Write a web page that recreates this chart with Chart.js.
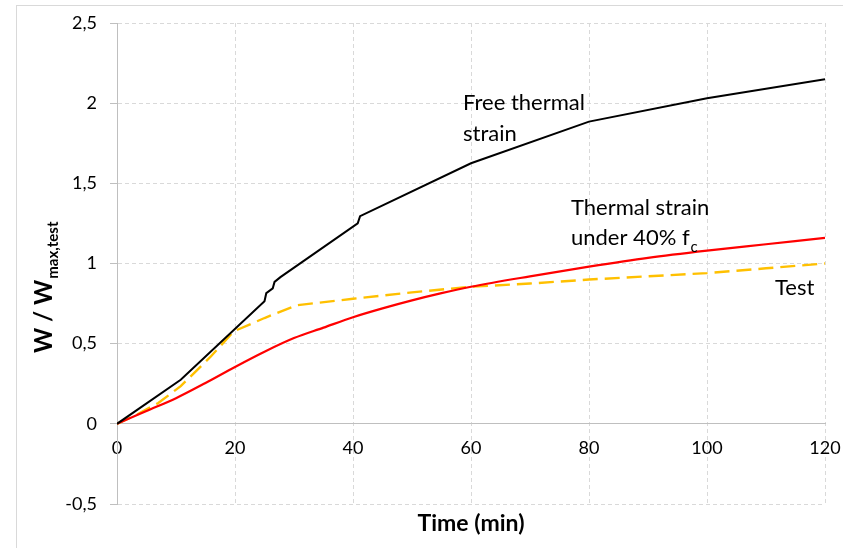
<!DOCTYPE html>
<html>
<head>
<meta charset="utf-8">
<script src="https://cdn.jsdelivr.net/npm/chart.js@4.4.1/dist/chart.umd.min.js"></script>
<style>
html,body{margin:0;padding:0;background:#ffffff;}
#wrap{width:843px;height:548px;position:relative;}
canvas{display:block;}
</style>
</head>
<body>
<div id="wrap"><canvas id="c" width="843" height="548"></canvas></div>
<script>
// ---- data ----
const timeFree = [0, 10.8, 25, 25.3, 26.4, 26.7, 27.7, 40.8, 41.2, 60, 80, 100, 120];
const wFree    = [0, 0.275, 0.765, 0.815, 0.845, 0.885, 0.915, 1.25, 1.295, 1.625, 1.885, 2.03, 2.15];

const timeLoad = [0, 5, 10, 15, 20, 25, 30, 35, 40, 45, 50, 55, 60, 70, 80, 90, 100, 110, 120];
const wLoad    = [0, 0.08, 0.16, 0.255, 0.355, 0.45, 0.535, 0.6, 0.665, 0.72, 0.77, 0.815, 0.855, 0.92, 0.98, 1.035, 1.08, 1.12, 1.16];

const timeTest = [0, 3.4, 7, 10.8, 15.9, 19.8, 25, 30.5, 40, 50, 60, 70, 80, 90, 100, 110, 120];
const wTest    = [0, 0.058, 0.13, 0.235, 0.42, 0.577, 0.66, 0.74, 0.78, 0.82, 0.855, 0.875, 0.9, 0.92, 0.94, 0.97, 1.0];

const seriesNames = ['Free thermal strain', 'Thermal strain under 40% fc', 'Test'];
const xTickValues = [0, 20, 40, 60, 80, 100, 120];
const yTickValues = [-0.5, 0, 0.5, 1, 1.5, 2, 2.5];
const xTitle = 'Time (min)';
const yTitleMain = 'W / W';
const yTitleSub = 'max,test';

function pts(xs, ys){ return xs.map((x,i)=>({x:x, y:ys[i]})); }

const FONT = 'Lato, "Open Sans", sans-serif';
const GRID = '#d9d9d9';
const AXIS = '#bfbfbf';

const decorations = {
  id: 'decorations',
  beforeDraw(chart){
    const ctx = chart.ctx;
    ctx.save();
    ctx.fillStyle = '#ffffff';
    ctx.fillRect(0,0,chart.width,chart.height);
    ctx.strokeStyle = '#d9d9d9';
    ctx.lineWidth = 1;
    ctx.strokeRect(16.5, 5.5, 900, 700);
    ctx.restore();
  },
  afterDraw(chart){
    const ctx = chart.ctx;
    const ca = chart.chartArea;
    ctx.save();
    ctx.fillStyle = '#000000';
    ctx.textBaseline = 'alphabetic';
    ctx.textAlign = 'left';
    // series labels
    ctx.font = '22px ' + FONT;
    ctx.fillText('Free thermal', 463, 110);
    ctx.fillText('strain', 463, 141);
    ctx.fillText('Thermal strain', 571, 215);
    const under = 'under 40% f';
    ctx.fillText(under, 571, 245);
    const uw = ctx.measureText(under).width;
    ctx.font = '15px ' + FONT;
    ctx.fillText('c', 571 + uw + 1, 252);
    ctx.font = '22px ' + FONT;
    ctx.fillText('Test', 775, 295);

    // x title
    ctx.font = 'bold 23px ' + FONT;
    ctx.textAlign = 'center';
    ctx.fillText(xTitle, 471, 531);

    // y title (rotated)
    ctx.textAlign = 'left';
    ctx.translate(52, 353);
    ctx.rotate(-Math.PI/2);
    ctx.font = 'bold 24px ' + FONT;
    ctx.fillText(yTitleMain, 0, 0);
    const mw = ctx.measureText(yTitleMain).width;
    ctx.font = 'bold 15px ' + FONT;
    ctx.fillText(yTitleSub, mw + 1, 6);
    ctx.restore();
  }
};

function noOverflow(scale){
  scale.paddingLeft = 0; scale.paddingRight = 0;
  scale.paddingTop = 0; scale.paddingBottom = 0;
}

new Chart(document.getElementById('c'), {
  type: 'line',
  data: {
    datasets: [
      { label: seriesNames[0], data: pts(timeFree, wFree), borderColor: '#000000', borderWidth: 2,
        pointRadius: 0, tension: 0, fill: false },
      { label: seriesNames[1], data: pts(timeLoad, wLoad), borderColor: '#ff0000', borderWidth: 2.2,
        pointRadius: 0, tension: 0.4, cubicInterpolationMode: 'monotone', fill: false },
      { label: seriesNames[2], data: pts(timeTest, wTest), borderColor: '#ffc000', borderWidth: 2.4,
        borderDash: [15, 7], pointRadius: 0, tension: 0, fill: false }
    ]
  },
  options: {
    responsive: false,
    animation: false,
    devicePixelRatio: 1,
    layout: { padding: { left: 0, top: 23, right: 18, bottom: 44 } },
    plugins: { legend: { display: false }, tooltip: { enabled: false }, title: { display: false } },
    scales: {
      x: {
        type: 'linear',
        position: { y: 0 },
        min: 0, max: 120,
        afterBuildTicks(scale){ scale.ticks = xTickValues.map(v => ({value: v})); },
        afterFit: noOverflow,
        ticks: { color: '#000000', font: { family: FONT, size: 18 }, padding: 14, maxRotation: 0, autoSkip: false },
        grid: { color: GRID, lineWidth: 1, drawTicks: false },
        border: { display: true, color: AXIS, width: 1, dash: [4, 3] },
        title: { display: false }
      },
      y: {
        type: 'linear',
        position: 'left',
        min: -0.5, max: 2.5,
        afterBuildTicks(scale){ scale.ticks = yTickValues.map(v => ({value: v})); },
        afterFit(scale){ scale.width = 117; noOverflow(scale); },
        ticks: { color: '#000000', font: { family: FONT, size: 18 }, padding: 13,
                 callback: v => String(v).replace('.', ',') },
        grid: { color: GRID, lineWidth: 1, drawTicks: true, tickLength: 7, tickColor: AXIS, tickBorderDash: [] },
        border: { display: true, color: AXIS, width: 1, dash: [4, 3] },
        title: { display: false }
      }
    }
  },
  plugins: [decorations]
});
</script>
</body>
</html>
